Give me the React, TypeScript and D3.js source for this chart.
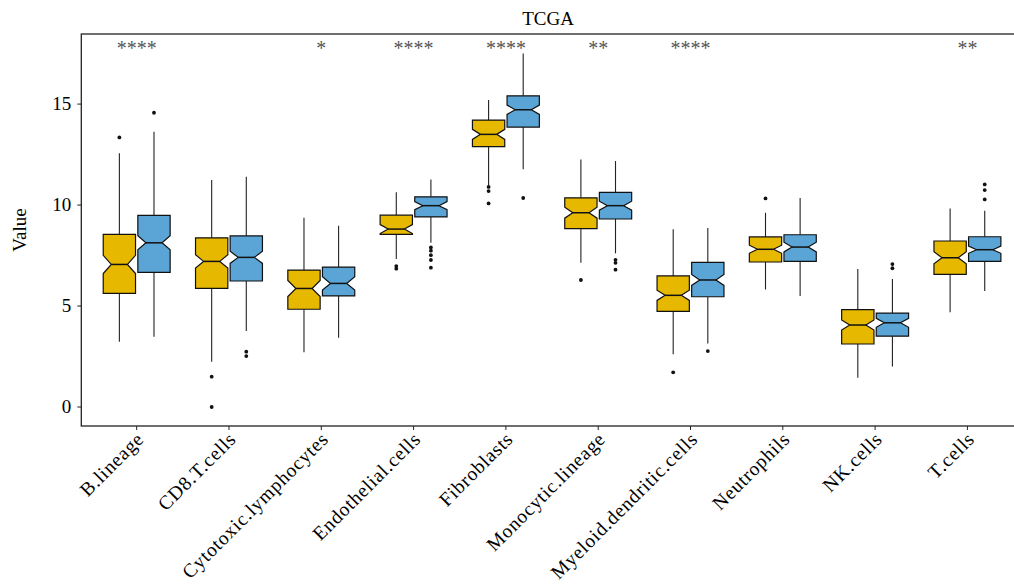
import React, { useEffect } from "react";
import * as d3 from "d3";

const categories = [
  "B.lineage", "CD8.T.cells", "Cytotoxic.lymphocytes", "Endothelial.cells", "Fibroblasts",
  "Monocytic.lineage", "Myeloid.dendritic.cells", "Neutrophils", "NK.cells", "T.cells",
];
const groupNames = ["Group1", "Group2"];
const groupColors = ["#E6B800", "#5BA4D6"];

// Group 1 (yellow)
const g1WhiskerLo = [3.23, 2.24, 2.71, 7.33, 10.99, 7.14, 2.61, 5.82, 1.45, 4.69];
const g1Q1 = [5.63, 5.87, 4.84, 8.55, 12.89, 8.83, 4.74, 7.18, 3.12, 6.57];
const g1Median = [7.06, 7.21, 5.87, 8.81, 13.5, 9.62, 5.53, 7.81, 4.06, 7.39];
const g1Q3 = [8.55, 8.38, 6.78, 9.5, 14.21, 10.36, 6.49, 8.42, 4.82, 8.22];
const g1WhiskerHi = [12.56, 11.24, 9.37, 10.63, 15.2, 12.26, 8.8, 9.62, 6.83, 9.83];
const g1NotchHalf = [0.45, 0.33, 0.4, 0.22, 0.25, 0.27, 0.25, 0.2, 0.25, 0.3];
const g1Outliers = [[13.35], [1.5, 0.0], [], [6.98, 6.85], [10.9, 10.69, 10.08], [6.29], [1.72], [10.33], [], []];

// Group 2 (blue)
const g2WhiskerLo = [3.48, 3.76, 3.43, 8.13, 11.77, 7.61, 3.15, 5.5, 2.0, 5.74];
const g2Q1 = [6.67, 6.24, 5.5, 9.41, 13.86, 9.31, 5.46, 7.21, 3.51, 7.21];
const g2Median = [8.13, 7.41, 6.12, 9.97, 14.72, 9.97, 6.29, 7.92, 4.17, 7.79];
const g2Q3 = [9.49, 8.47, 6.93, 10.41, 15.41, 10.63, 7.16, 8.53, 4.65, 8.43];
const g2WhiskerHi = [13.63, 11.4, 8.98, 11.27, 17.51, 12.18, 8.86, 10.35, 6.34, 9.72];
const g2NotchHalf = [0.35, 0.3, 0.33, 0.2, 0.23, 0.22, 0.27, 0.24, 0.22, 0.18];
const g2Outliers = [[14.57], [2.74, 2.52], [], [7.9, 7.74, 7.52, 7.28, 6.9], [10.35], [7.29, 7.14, 6.8], [2.77], [], [7.08, 6.87], [11.02, 10.74, 10.28]];

const signif = ["****", "", "*", "****", "****", "**", "****", "", "", "**"];
const signifY = 17.97;
const yTicks = [0, 5, 10, 15];

const W = 1014, H = 586;
const panel = { left: 81.3, right: 1022.8, top: 34, bottom: 426 };
const FONT = "'Liberation Serif', 'Times New Roman', serif";

type Box = { lo: number; q1: number; med: number; q3: number; hi: number; nh: number; out: number[] };

const groupsData: Box[][] = [
  categories.map((_, i) => ({ lo: g1WhiskerLo[i], q1: g1Q1[i], med: g1Median[i], q3: g1Q3[i], hi: g1WhiskerHi[i], nh: g1NotchHalf[i], out: g1Outliers[i] })),
  categories.map((_, i) => ({ lo: g2WhiskerLo[i], q1: g2Q1[i], med: g2Median[i], q3: g2Q3[i], hi: g2WhiskerHi[i], nh: g2NotchHalf[i], out: g2Outliers[i] })),
];

export default function App() {
  useEffect(() => {
    document.body.style.margin = "0";
  }, []);

  const x = d3.scaleBand<string>().domain(categories).range([panel.left, panel.right]).paddingInner(0).paddingOuter(0.1);
  const y = d3.scaleLinear().domain([-0.94, 18.47]).range([panel.bottom, panel.top]);
  const step = x.step();
  const dodge = d3.scaleBand<string>().domain(groupNames).range([-0.375 * step, 0.375 * step]);
  const boxW = 0.35 * step;
  const cx = (c: string) => (x(c) as number) + x.bandwidth() / 2;

  const boxPath = (xc: number, b: Box) => {
    const x0 = xc - boxW / 2, x1 = xc + boxW / 2;
    const ins = boxW * 0.25;
    const p = d3.path();
    p.moveTo(x0, y(b.q3));
    p.lineTo(x1, y(b.q3));
    p.lineTo(x1, y(b.med + b.nh));
    p.lineTo(x1 - ins, y(b.med));
    p.lineTo(x1, y(b.med - b.nh));
    p.lineTo(x1, y(b.q1));
    p.lineTo(x0, y(b.q1));
    p.lineTo(x0, y(b.med - b.nh));
    p.lineTo(x0 + ins, y(b.med));
    p.lineTo(x0, y(b.med + b.nh));
    p.closePath();
    return p.toString();
  };

  return (
    <svg width={W} height={H} style={{ position: "absolute", left: 0, top: 0, background: "#fff" }} fontFamily={FONT}>
      <text x={548} y={25} textAnchor="middle" fontSize={19} fill="#000">TCGA</text>
      {/* panel border */}
      <rect x={panel.left} y={panel.top} width={panel.right - panel.left} height={panel.bottom - panel.top} fill="none" stroke="#222" strokeWidth={1.3} />
      {/* y axis */}
      {yTicks.map((t) => (
        <g key={t}>
          <line x1={panel.left - 4} x2={panel.left} y1={y(t)} y2={y(t)} stroke="#222" strokeWidth={1} />
          <text x={panel.left - 10} y={y(t)} dy="0.33em" textAnchor="end" fontSize={19} fill="#000">{t}</text>
        </g>
      ))}
      <text transform={`translate(26,${(panel.top + panel.bottom) / 2}) rotate(-90)`} textAnchor="middle" fontSize={19} fill="#000">Value</text>
      {/* x axis */}
      {categories.map((c) => (
        <g key={c}>
          <line x1={cx(c)} x2={cx(c)} y1={panel.bottom} y2={panel.bottom + 4} stroke="#222" strokeWidth={1} />
          <text transform={`translate(${cx(c)},${panel.bottom + 6}) rotate(-45)`} textAnchor="end" dy="0.6em" fontSize={19.5} letterSpacing={0.75} fill="#000">{c}</text>
        </g>
      ))}
      {/* boxes */}
      {groupsData.map((gd, gi) =>
        gd.map((b, i) => {
          const xc = cx(categories[i]) + (dodge(groupNames[gi]) as number) + dodge.bandwidth() / 2;
          const ins = boxW * 0.25;
          return (
            <g key={`${gi}-${i}`}>
              <line x1={xc} x2={xc} y1={y(b.q3)} y2={y(b.hi)} stroke="#222" strokeWidth={1.1} />
              <line x1={xc} x2={xc} y1={y(b.q1)} y2={y(b.lo)} stroke="#222" strokeWidth={1.1} />
              <path d={boxPath(xc, b)} fill={groupColors[gi]} stroke="#111" strokeWidth={1.2} />
              <line x1={xc - boxW / 2 + ins} x2={xc + boxW / 2 - ins} y1={y(b.med)} y2={y(b.med)} stroke="#111" strokeWidth={1.5} />
              {b.out.map((o, k) => (
                <circle key={k} cx={xc} cy={y(o)} r={1.9} fill="#111" />
              ))}
            </g>
          );
        })
      )}
      {/* significance */}
      {categories.map((c, i) => (
        <text key={c} x={cx(c)} y={y(signifY)} dy="0.55em" textAnchor="middle" fontSize={20} fill="#555">{signif[i]}</text>
      ))}
    </svg>
  );
}
